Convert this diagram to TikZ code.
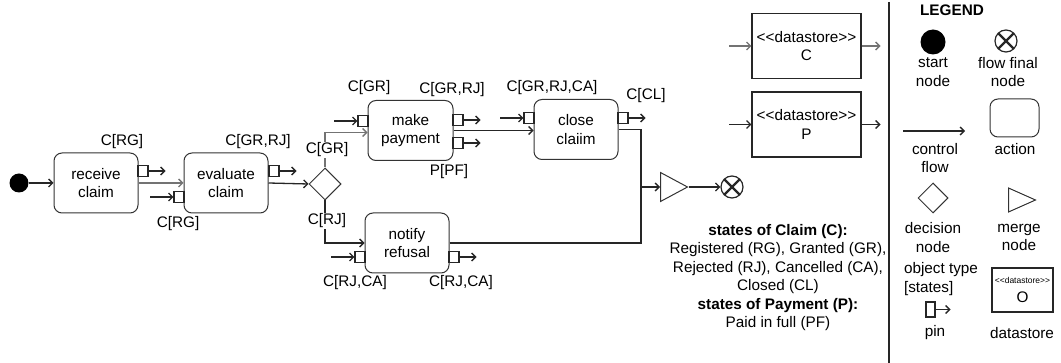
\documentclass[tikz,border=0pt]{standalone}
\usepackage{fontspec}
\setmainfont{Liberation Sans}
\usetikzlibrary{arrows.meta,positioning,shapes.geometric}
\newcommand\diagfont{\fontsize{15.3}{18.4}\selectfont}
\newcommand\stereo{\textless\kern0pt\textless datastore\textgreater\kern0pt\textgreater}

\tikzset{
	action/.style={draw=black!80, line width=1pt, rounded corners=8pt, minimum width=84pt, minimum height=60pt, inner sep=0pt},
	pinbox/.style={draw=black!85, line width=1.1pt, fill=white, minimum width=10pt, minimum height=11pt, inner sep=0pt},
	conn/.style={draw=black!85, line width=1.3pt},
	flow/.style={conn, ->},
	soft/.style={draw=black!55},
	lbl/.style={fill=white, inner sep=1pt},
	store/.style={draw=black!85, line width=1.1pt, minimum width=109pt, minimum height=65pt, inner sep=0pt},
	decision/.style={diamond, draw=black!80, line width=1pt, minimum width=32pt, minimum height=32pt, inner sep=0pt},
	merge/.style={isosceles triangle, isosceles triangle stretches, draw=black!80, line width=1pt, minimum width=29pt, minimum height=27pt, inner sep=0pt},
	startnode/.style={circle, fill=black, minimum size=#1, inner sep=0pt},
	finalnode/.style={circle, draw=black!85, line width=1.2pt, minimum size=#1, inner sep=0pt,
		path picture={\draw[line width=2.2pt] (path picture bounding box.south west) -- (path picture bounding box.north east)
			(path picture bounding box.north west) -- (path picture bounding box.south east);}},
}

\begin{document}
\begin{tikzpicture}[x=1pt, y=-1pt, every node/.style={font=\diagfont, align=center}, >={Straight Barb[length=4pt,width=8pt]}]
	\useasboundingbox (0,0) rectangle (1061,363);
	\node[startnode=19pt] (start) at (19,183) {};
	\node[action] (receive) at (96,183) {receive\\claim};
	\node[action] (evaluate) at (226,183) {evaluate\\claim};
	\node[decision] (dec) at (325,184) {};
	\node[action, minimum width=85pt] (payment) at (410.5,130.5) {make\\payment};
	\node[action] (close) at (576,129.5) {close\\claiim};
	\node[action] (refusal) at (407,243) {notify\\refusal};
	\node[merge, anchor=west] (mrg) at (660,187) {};
	\node[finalnode=22pt] (final) at (732,187) {};

	\node[pinbox] (p1) at (143,171) {};
	\node[pinbox] (p2) at (179,197) {};
	\node[pinbox] (p3) at (274,171) {};
	\node[pinbox] (p4) at (363,121) {};
	\node[pinbox] (p5) at (458,120) {};
	\node[pinbox] (p6) at (458,143) {};
	\node[pinbox] (p7) at (529,118) {};
	\node[pinbox] (p8) at (623,118) {};
	\node[pinbox] (p9) at (360,257) {};
	\node[pinbox] (p10) at (454,257) {};
	\foreach \p in {p1,p3,p5,p6,p8,p10} {
		\coordinate[right=17pt of \p] (\p-out);
		\draw[flow] (\p) -- (\p-out);
	}
	\foreach \p in {p2,p4,p7,p9} {
		\coordinate[left=23pt of \p] (\p-in);
		\draw[flow] (\p-in) -- (\p);
	}

	\draw[flow] (start) -- (receive);
	\draw[flow, soft] (receive) -- (evaluate);
	\draw[flow] (evaluate.east) -- (dec.west);
	\draw[flow, soft] (dec.north) |- ([yshift=-2pt]payment.west);
	\draw[flow] (dec.south) |- (refusal.west);
	\draw[flow] (payment.east) -- (payment.east -| close.west);
	\coordinate (join) at (641,187);
	\draw[conn] (close.east) -| (join);
	\draw[conn] (refusal.east) -| (join);
	\draw[flow] (join) -- (mrg.west);
	\draw[flow] (mrg.apex) -- (final);

	\node[store] (dsC) at (806.5,46) {\stereo\\C};
	\node[store] (dsP) at (806.5,124.5) {\stereo\\P};
	\coordinate[left=22pt of dsC] (dsC-in);
	\coordinate[right=19pt of dsC] (dsC-out);
	\coordinate[left=22pt of dsP] (dsP-in);
	\coordinate[right=19pt of dsP] (dsP-out);
	\draw[flow, soft] (dsC-in) -- (dsC);
	\draw[flow, soft] (dsC) -- (dsC-out);
	\draw[flow] (dsP-in) -- (dsP);
	\draw[flow] (dsP) -- (dsP-out);

	\node[lbl] (lRG1) at (122,142) {C[RG]};
	\node[lbl] (lRG2) at (178,224) {C[RG]};
	\node[lbl] (lGRRJ1) at (258,142) {C[GR,RJ]};
	\node[lbl] (lGR1) at (327,150) {C[GR]};
	\node[lbl] (lRJ) at (327,221) {C[RJ]};
	\node[lbl] (lGR2) at (369,88) {C[GR]};
	\node[lbl] (lGRRJ2) at (452,90) {C[GR,RJ]};
	\node[lbl] (lPF) at (449,172) {P[PF]};
	\node[lbl] (lGRRJCA) at (552,88) {C[GR,RJ,CA]};
	\node[lbl] (lCL) at (646,96) {C[CL]};
	\node[lbl] (lRJCA1) at (355,283) {C[RJ,CA]};
	\node[lbl] (lRJCA2) at (461,283) {C[RJ,CA]};
	\node (states) at (778,277.5) {\textbf{states of Claim (C):}\\Registered (RG), Granted (GR),\\Rejected (RJ), Cancelled (CA),\\Closed (CL)\\\textbf{states of Payment (P):}\\Paid in full (PF)};

	\coordinate (divtop) at (889,2);
	\coordinate (divbot) at (889,363);
	\draw[conn] (divtop) -- (divbot);

	\node[font=\diagfont\bfseries] (legend) at (952,10) {LEGEND};
	\node[startnode=25pt] (lstart) at (933,42) {};
	\node (lstart-t) at (933,72) {start\\node};
	\node[finalnode=22pt] (lfinal) at (1006,41) {};
	\node (lfinal-t) at (1008,72) {flow final\\node};
	\coordinate (lflow-a) at (903,131);
	\coordinate (lflow-b) at (965,131);
	\draw[flow] (lflow-a) -- (lflow-b);
	\node (lflow-t) at (935,158) {control\\flow};
	\node[action, minimum width=49pt, minimum height=38pt] (laction) at (1014.5,118) {};
	\node (laction-t) at (1015,149) {action};
	\node[decision, minimum width=30pt, minimum height=30pt] (ldec) at (933,198) {};
	\node (ldec-t) at (933,237.5) {decision\\node};
	\node[merge, anchor=west, minimum width=24pt] (lmrg) at (1008,200) {};
	\node (lmrg-t) at (1019,237.5) {merge\\node};
	\node[align=left] (lobj) at (941,279) {object type\\ {[states]}};
	\node[pinbox, minimum width=9pt, minimum height=15pt] (lpin) at (930.5,309.5) {};
	\coordinate[right=15pt of lpin] (lpin-out);
	\draw[flow] (lpin) -- (lpin-out);
	\node (lpin-t) at (935,333) {pin};
	\node[store, minimum width=61pt, minimum height=44pt] (lstore) at (1022.5,290) {{\fontsize{8.5}{10}\selectfont\stereo}\\O};
	\node (lstore-t) at (1022,333) {datastore};
\end{tikzpicture}
\end{document}
